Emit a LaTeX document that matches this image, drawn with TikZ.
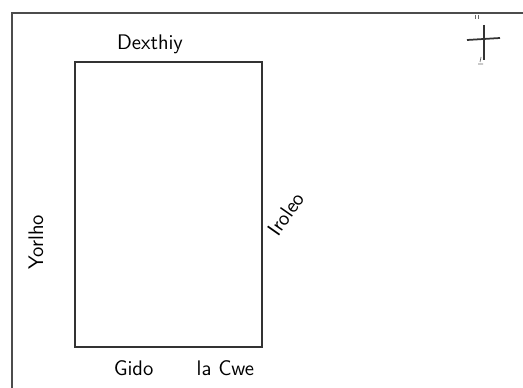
\documentclass[tikz,border=0pt]{standalone}
\usepackage{pgf,tikz}

\begin{document}
\begin{tikzpicture}[x=0.02cm, y=-0.02cm, font=\sffamily\large]
    \clip (0,0) rectangle (523,388);
    \fill[white] (0,0) rectangle (523,388);
    % sheet frame
    \draw[black!70, line width=1.1pt] (12,400) -- (12,13) -- (530,13);
    % plot
    \draw[black!80, line width=1.2pt] (75,62) rectangle (262,347);
    \node (north) at (150,44) {Dexthiy};
    \node[rotate=90] (west) at (36,242) {Yorlho};
    \node[rotate=55, inner sep=0pt] (east) at (286,214) {Iroleo};
    \node (south) at (184,368) {Gido \hspace{1.4em} la Cwe};
    % compass
    \draw[black!80, line width=1pt] (484,25) -- (484,60);
    \draw[black!80, line width=1pt] (467,40) -- (500,38);
    \draw[black!60, thin] (475,15) -- (475,19) (478,15) -- (478,19);
    \draw[black!60, thin] (481,57) -- (480,62) (478,64) -- (483,64);
\end{tikzpicture}
\end{document}
